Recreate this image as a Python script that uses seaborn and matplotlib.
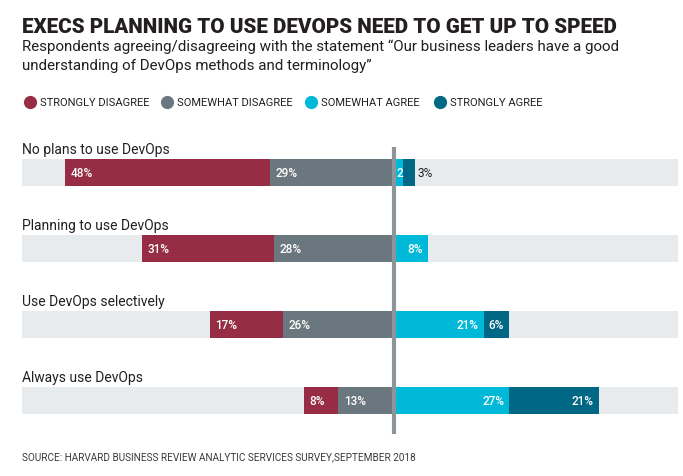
import matplotlib
matplotlib.use("Agg")
import matplotlib.pyplot as plt
from matplotlib.lines import Line2D
import seaborn as sns

# Data
groups = ["No plans to use DevOps", "Planning to use DevOps",
          "Use DevOps selectively", "Always use DevOps"]
strongly_disagree = [48, 31, 17, 8]
somewhat_disagree = [29, 28, 26, 13]
somewhat_agree = [2, 8, 21, 27]
strongly_agree = [3, 0, 6, 21]
legend_labels = ["STRONGLY DISAGREE", "SOMEWHAT DISAGREE", "SOMEWHAT AGREE", "STRONGLY AGREE"]

colors = ["#962D44", "#6B777E", "#00B9D8", "#006784"]
bg_color = "#E8EBEE"
ink = "#231F20"

sns.set_theme(style="white")
plt.rcParams["font.family"] = ["Roboto", "DejaVu Sans"]

W, H = 683, 477
fig = plt.figure(figsize=(W / 100, H / 100), dpi=100)

# axes spanning the grey background bars (x 22..678 px, y 140..440 px)
ax = fig.add_axes([22 / W, 1 - 440 / H, 656 / W, 300 / H])
xmin, xmax = -87.1, 66.5
bw = 0.355

neg_total = [a + b for a, b in zip(strongly_disagree, somewhat_disagree)]
pos_total = [a + b for a, b in zip(somewhat_agree, strongly_agree)]
neg_sw = [-v for v in somewhat_disagree]
neg_tot = [-v for v in neg_total]

def bars(vals, color):
    sns.barplot(x=vals, y=groups, orient="h", color=color, saturation=1,
                width=bw, errorbar=None, linewidth=0, ax=ax)

bars([xmax] * len(groups), bg_color)
bars([xmin] * len(groups), bg_color)
bars(neg_tot, colors[0])
bars(neg_sw, colors[1])
bars(pos_total, colors[3])
bars(somewhat_agree, colors[2])

ax.set_xlim(xmin, xmax)
ax.set_ylim(3.51, -0.44)
ax.vlines(0, -0.336, 3.44, color="#8D959A", lw=3, zorder=5)
ax.set_axis_off()

pad = 1.2
val_fs = 8.5
lab_kw = dict(va="center", fontsize=val_fs, color="white", fontweight="medium", zorder=6)
cat_texts = []
for i, g in enumerate(groups):
    cat_texts.append(ax.text(xmin, i - 0.31, g, ha="left", va="center",
                             fontsize=10, color=ink))
    sd, swd, swa, sa = (strongly_disagree[i], somewhat_disagree[i],
                        somewhat_agree[i], strongly_agree[i])
    ax.text(-(sd + swd) + pad, i, f"{sd}%", ha="left", **lab_kw)
    ax.text(-swd + pad, i, f"{swd}%", ha="left", **lab_kw)
    if swa < 3:
        ax.text(swa / 2 + 0.35, i, f"{swa}", ha="center", **lab_kw)
    elif swa > 0:
        ax.text(swa - pad, i, f"{swa}%", ha="right", **lab_kw)
    if 0 < sa < 4:
        ax.text(swa + sa + 0.4, i, f"{sa}%", ha="left", va="center",
                fontsize=val_fs, color=ink, zorder=6)
    elif sa > 0:
        ax.text(swa + sa - pad, i, f"{sa}%", ha="right", **lab_kw)

# Titles
title = fig.text(22 / W, 1 - 33 / H, "EXECS PLANNING TO USE DEVOPS NEED TO GET UP TO SPEED",
                 fontsize=20, fontweight="black", color=ink, va="baseline")
sub1 = fig.text(22 / W, 1 - 51 / H,
                "Respondents agreeing/disagreeing with the statement \u201cOur business leaders have a good",
                fontsize=12, color=ink, va="baseline")
sub2 = fig.text(22 / W, 1 - 70 / H, "understanding of DevOps methods and terminology\u201d",
                fontsize=12, color=ink, va="baseline")
source = fig.text(22 / W, 1 - 460 / H,
                  "SOURCE: HARVARD BUSINESS REVIEW ANALYTIC SERVICES SURVEY,SEPTEMBER 2018",
                  fontsize=9, color="#3A3A3A", va="baseline")

renderer = fig.canvas.get_renderer()
for t, target in [(title, 593), (sub1, 598), (source, 390)]:
    w = t.get_window_extent(renderer).width
    t.set_fontsize(t.get_fontsize() * target / w)
sub2.set_fontsize(sub1.get_fontsize())

# Legend (dot + label, placed like the original)
dot_x = [30, 167, 311, 440]
leg_y = 1 - 103 / H
for x, c, lab in zip(dot_x, colors, legend_labels):
    fig.add_artist(Line2D([x / W], [leg_y], marker="o", ls="", markersize=9.5,
                          markerfacecolor=c, markeredgewidth=0,
                          transform=fig.transFigure))
    fig.text((x + 10) / W, leg_y, lab, fontsize=8, color=ink, va="center", ha="left")

fig.savefig("out.png", dpi=100, facecolor="white")
